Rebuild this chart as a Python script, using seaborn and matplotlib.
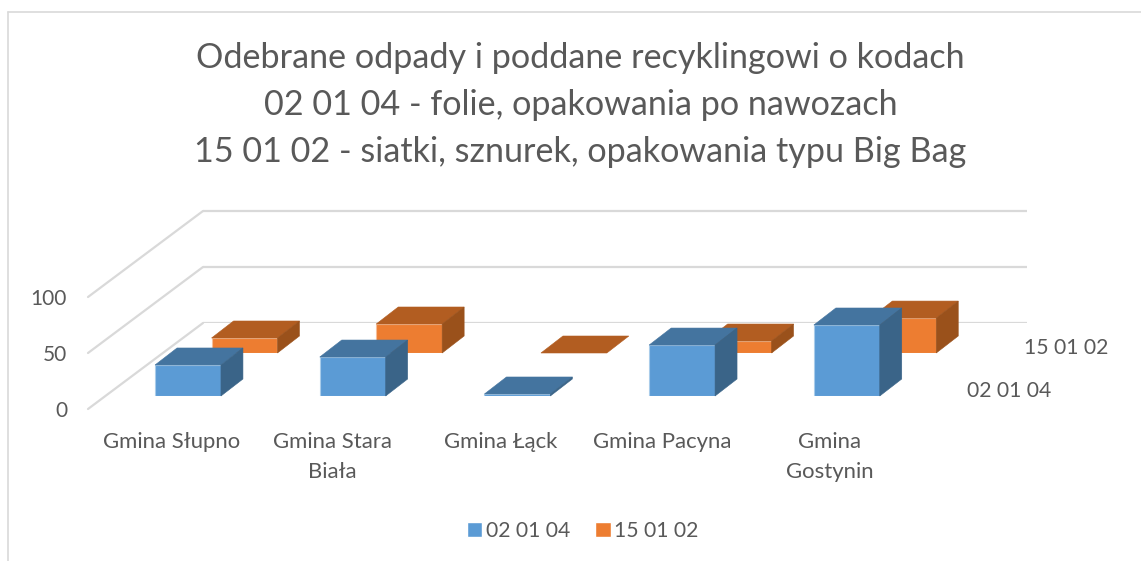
import matplotlib
matplotlib.use('Agg')
import matplotlib.pyplot as plt
import matplotlib.transforms as mtrans
from matplotlib.lines import Line2D
from matplotlib.patches import Patch, Polygon
import pandas as pd
import seaborn as sns

# Values
gminy = ['Gmina Słupno', 'Gmina Stara\nBiała', 'Gmina Łąck', 'Gmina Pacyna', 'Gmina\nGostynin']
odpady_020104 = [27.7, 34.8, 1.8, 45.5, 63.4]
odpady_150102 = [13.4, 25.9, 0, 10.7, 31.2]
y_ticks = [0, 50, 100]
series_names = ['02 01 04', '15 01 02']
title_lines = [
    'Odebrane odpady i poddane recyklingowi o kodach',
    '02 01 04 - folie, opakowania po nawozach',
    '15 01 02 - siatki, sznurek, opakowania typu Big Bag',
]

# label nudge in px, Excel wraps them a bit off the bars
label_shift = [-16, -20, -17, -20, -17]

W, H = 1141, 561
TEXT = '#595959'
GRID = '#D9D9D9'
BLUE = ('#5B9BD5', '#44749F', '#3A6488', '#A9CCEA')
ORANGE = ('#ED7D31', '#B25D21', '#9A511B', '#F6BE98')

# one category = 164.7 px, 50 units = 56 px
PX_X = 164.7
PX_Y = 1.12
YMAX = 150
DEPTH_X = 22 / PX_X
DEPTH_Y = 17 / PX_Y

sns.set_theme(style='white')
plt.rcParams['font.family'] = ['Lato', 'DejaVu Sans']

fig = plt.figure(figsize=(W / 100, H / 100), dpi=100)


def px_axes(left, base, width):
    return fig.add_axes([left / W, 1 - base / H, width / W, YMAX * PX_Y / H], facecolor='none')


def draw_series(ax, values, colors):
    front, top, side, edge = colors
    df = pd.DataFrame({'gmina': gminy, 'value': values})
    sns.barplot(data=df, x='gmina', y='value', ax=ax, color=front, saturation=1,
                width=0.4, edgecolor=edge, linewidth=0.8)
    ax.set_xlim(-0.5, 4.5)
    ax.set_ylim(0, YMAX)
    ax.set_xlabel('')
    ax.set_ylabel('')
    sns.despine(ax=ax, left=True, bottom=True)
    ax.tick_params(length=0)
    ax.set_yticks([])
    # 3D look: top and side faces follow each bar
    for bar in list(ax.patches):
        x0 = bar.get_x()
        x1 = x0 + bar.get_width()
        h = bar.get_height()
        ax.add_patch(Polygon([(x0, h), (x1, h), (x1 + DEPTH_X, h + DEPTH_Y), (x0 + DEPTH_X, h + DEPTH_Y)],
                             facecolor=top, edgecolor=top, linewidth=0.4, clip_on=False))
        if h > 0:
            ax.add_patch(Polygon([(x1, 0), (x1, h), (x1 + DEPTH_X, h + DEPTH_Y), (x1 + DEPTH_X, DEPTH_Y)],
                                 facecolor=side, edgecolor=side, linewidth=0.4, clip_on=False))


# back wall with gridlines, slanted floor lines go to the front
ax_wall = px_axes(203, 323, 824)
ax_wall.set_ylim(0, YMAX)
ax_wall.set_xticks([])
ax_wall.set_yticks(y_ticks)
ax_wall.set_yticklabels([str(v) for v in y_ticks], color=TEXT, fontsize=15)
ax_wall.grid(axis='y', color=GRID, linewidth=1.6)
ax_wall.tick_params(axis='y', length=0, pad=0)
sns.despine(ax=ax_wall, left=True, bottom=True)
tick_offset = mtrans.ScaledTranslation(-136 / 100, -86 / 100, fig.dpi_scale_trans)
for lab in ax_wall.get_yticklabels():
    lab.set_transform(lab.get_transform() + tick_offset)
for v in y_ticks:
    ax_wall.plot([0, -115 / 824], [v, v - 86 / PX_Y], transform=ax_wall.get_yaxis_transform(),
                 color=GRID, linewidth=1.6, clip_on=False)

# 15 01 02 stands behind 02 01 04
ax_back = px_axes(162.15, 353, 823.5)
draw_series(ax_back, odpady_150102, ORANGE)
ax_back.set_xticks([])

ax_front = px_axes(105.65, 396, 823.5)
draw_series(ax_front, odpady_020104, BLUE)
ax_front.tick_params(axis='x', labelsize=15.9, labelcolor=TEXT, pad=26)
for lab, shift in zip(ax_front.get_xticklabels(), label_shift):
    lab.set_transform(lab.get_transform() + mtrans.ScaledTranslation(shift / 100, 0, fig.dpi_scale_trans))
    lab.set_linespacing(1.62)

# series labels on the depth axis
fig.text(1066 / W, 1 - 348 / H, series_names[1], color=TEXT, fontsize=15.2, ha='center', va='center')
fig.text(1009 / W, 1 - 391 / H, series_names[0], color=TEXT, fontsize=15.2, ha='center', va='center')

fig.text(580.5 / W, 1 - 105 / H, '\n'.join(title_lines), color=TEXT, fontsize=24.6, ha='center', va='center',
         linespacing=1.57)

handles = [Patch(facecolor=BLUE[0], label=series_names[0]), Patch(facecolor=ORANGE[0], label=series_names[1])]
fig.legend(handles=handles, loc='center', bbox_to_anchor=(582.5 / W, 1 - 531 / H), ncol=2, frameon=False,
           fontsize=15.2, labelcolor=TEXT, handlelength=0.75, handleheight=0.75, handletextpad=0.15,
           columnspacing=1.2, borderpad=0)

# chart frame, only left and top are visible in the crop
fig.add_artist(Line2D([8 / W, 8 / W], [0, 1 - 12 / H], color=GRID, linewidth=1.2))
fig.add_artist(Line2D([8 / W, 1], [1 - 12 / H, 1 - 12 / H], color=GRID, linewidth=1.2))

fig.savefig('out.png', dpi=100)
plt.close(fig)
